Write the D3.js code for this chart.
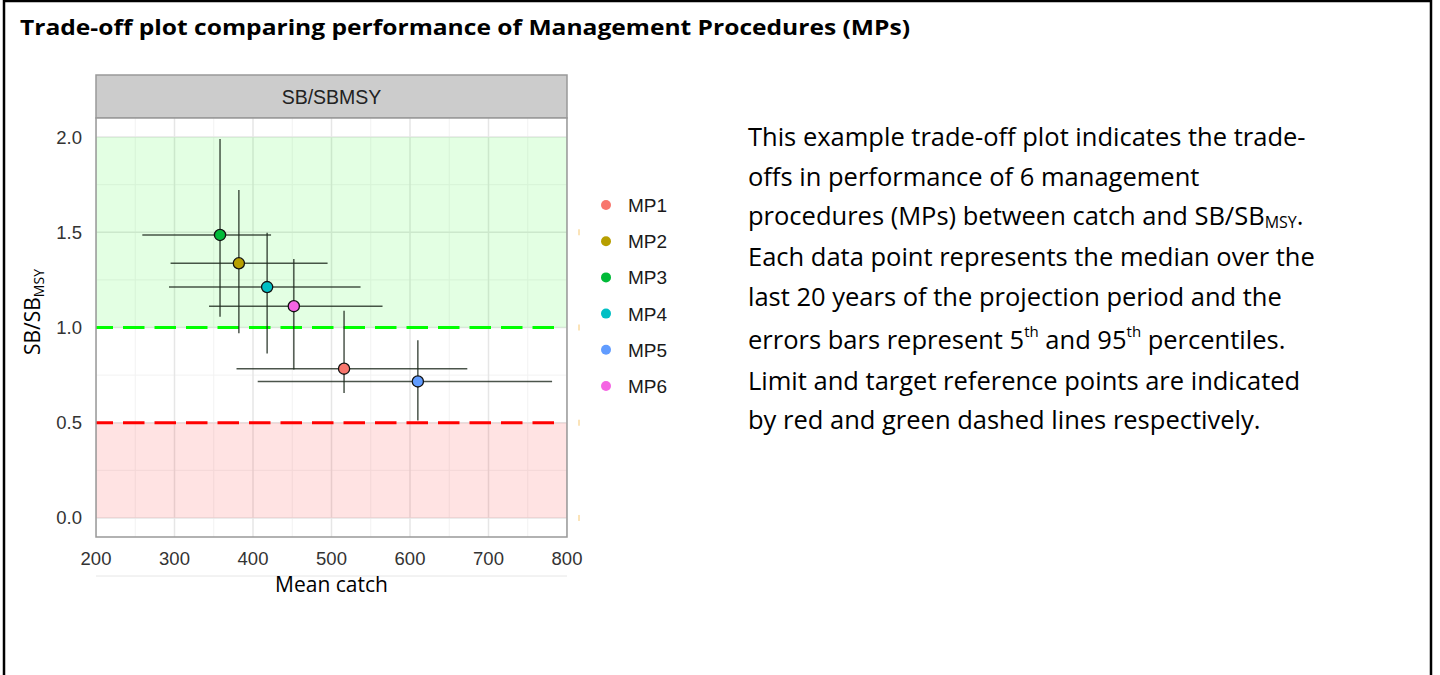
<!DOCTYPE html>
<html>
<head>
<meta charset="utf-8">
<script src="https://cdn.jsdelivr.net/npm/d3@7"></script>
<style>
  body { margin: 0; background: #fff; }
  svg { display: block; }
</style>
</head>
<body>
<svg id="chart" width="1440" height="675"></svg>
<script>
// data
const mps = ['MP1', 'MP2', 'MP3', 'MP4', 'MP5', 'MP6'];
const colours = ['#F8766D', '#B79F00', '#00BA38', '#00BFC4', '#619CFF', '#F564E3'];
const catchMed = [516, 382, 358, 418, 610, 452];
const catchLo = [379, 295, 259, 293, 406, 344];
const catchHi = [673, 495, 423, 537, 781, 565];
const sbMed = [0.784, 1.337, 1.486, 1.212, 0.717, 1.112];
const sbLo = [0.656, 0.970, 1.056, 0.863, 0.512, 0.780];
const sbHi = [1.088, 1.722, 1.990, 1.497, 0.933, 1.360];
const xTicks = [200, 300, 400, 500, 600, 700, 800];
const yTicks = [0, 0.5, 1, 1.5, 2];
const limitRef = 0.5;
const targetRef = 1;

const titleText = 'Trade-off plot comparing performance of Management Procedures (MPs)';
const noteLines = [
  [['This example trade-off plot indicates the trade-']],
  [['offs in performance of 6 management']],
  [['procedures (MPs) between catch and SB/SB'], ['MSY', 'sub'], ['.', 'after-sub']],
  [['Each data point represents the median over the']],
  [['last 20 years of the projection period and the']],
  [['errors bars represent 5'], ['th', 'sup'], [' and 95', 'after-sup'], ['th', 'sup'], [' percentiles.', 'after-sup']],
  [['Limit and target reference points are indicated']],
  [['by red and green dashed lines respectively.']]
];

const svg = d3.select('#chart');
const bodyFont = '"Open Sans", Lato, sans-serif';
const axisFont = '"Liberation Sans", Arial, sans-serif';

svg.append('rect').attr('width', 1440).attr('height', 675).attr('fill', '#fff');
// outer frame (no bottom edge visible)
svg.append('path')
  .attr('d', 'M4,680 V1 H1431 V680')
  .attr('fill', 'none').attr('stroke', '#000').attr('stroke-width', 2.5);

svg.append('text')
  .attr('x', 20).attr('y', 35)
  .attr('font-family', bodyFont).attr('font-weight', 700).attr('font-size', 22)
  .attr('textLength', 890).attr('lengthAdjust', 'spacingAndGlyphs')
  .attr('fill', '#000')
  .text(titleText);

// plot panel
const panel = { left: 96, right: 567, top: 118, bottom: 537 };
const x = d3.scaleLinear().domain([200, 800]).range([panel.left, panel.right]);
const y = d3.scaleLinear().domain([-0.1, 2.1]).range([panel.bottom, panel.top]);

const g = svg.append('g');
g.append('clipPath').attr('id', 'clip')
  .append('rect').attr('x', panel.left).attr('y', panel.top)
  .attr('width', panel.right - panel.left).attr('height', panel.bottom - panel.top);

// strip
g.append('rect')
  .attr('x', panel.left).attr('y', 75)
  .attr('width', panel.right - panel.left).attr('height', panel.top - 75)
  .attr('fill', '#cccccc').attr('stroke', '#999').attr('stroke-width', 1.5);
g.append('text')
  .attr('x', (panel.left + panel.right) / 2).attr('y', 104)
  .attr('text-anchor', 'middle')
  .attr('font-family', axisFont).attr('font-size', 19.5).attr('fill', '#222')
  .text('SB/SBMSY');

const inner = g.append('g').attr('clip-path', 'url(#clip)');
inner.append('rect')
  .attr('x', panel.left).attr('y', panel.top)
  .attr('width', panel.right - panel.left).attr('height', panel.bottom - panel.top)
  .attr('fill', '#fff');

// grid
const xMinor = d3.range(250, 800, 100);
const yMinor = d3.range(0.25, 2.1, 0.5);
inner.selectAll('.xminor').data(xMinor).join('line')
  .attr('x1', d => x(d)).attr('x2', d => x(d))
  .attr('y1', panel.top).attr('y2', panel.bottom)
  .attr('stroke', '#f2f2f2').attr('stroke-width', 1);
inner.selectAll('.yminor').data(yMinor).join('line')
  .attr('y1', d => y(d)).attr('y2', d => y(d))
  .attr('x1', panel.left).attr('x2', panel.right)
  .attr('stroke', '#f2f2f2').attr('stroke-width', 1);
inner.selectAll('.xmajor').data(xTicks).join('line')
  .attr('x1', d => x(d)).attr('x2', d => x(d))
  .attr('y1', panel.top).attr('y2', panel.bottom)
  .attr('stroke', '#e6e6e6').attr('stroke-width', 1.5);
inner.selectAll('.ymajor').data(yTicks).join('line')
  .attr('y1', d => y(d)).attr('y2', d => y(d))
  .attr('x1', panel.left).attr('x2', panel.right)
  .attr('stroke', '#e6e6e6').attr('stroke-width', 1.5);

// reference zones
inner.append('rect')
  .attr('x', panel.left).attr('width', panel.right - panel.left)
  .attr('y', y(2)).attr('height', y(targetRef) - y(2))
  .attr('fill', '#00ff00').attr('fill-opacity', 0.11);
inner.append('rect')
  .attr('x', panel.left).attr('width', panel.right - panel.left)
  .attr('y', y(limitRef)).attr('height', y(0) - y(limitRef))
  .attr('fill', '#ff0000').attr('fill-opacity', 0.11);

// reference lines
inner.append('line')
  .attr('x1', panel.left).attr('x2', panel.right - 10)
  .attr('y1', y(targetRef)).attr('y2', y(targetRef))
  .attr('stroke', '#00ff00').attr('stroke-width', 3)
  .attr('stroke-dasharray', '21.5,10').attr('stroke-dashoffset', 4.5);
inner.append('line')
  .attr('x1', panel.left).attr('x2', panel.right - 10)
  .attr('y1', y(limitRef)).attr('y2', y(limitRef))
  .attr('stroke', '#ff0000').attr('stroke-width', 3)
  .attr('stroke-dasharray', '21.5,10').attr('stroke-dashoffset', 4.5);

// error bars
const idx = d3.range(mps.length);
inner.selectAll('.hbar').data(idx).join('line')
  .attr('x1', i => x(catchLo[i])).attr('x2', i => x(catchHi[i]))
  .attr('y1', i => y(sbMed[i])).attr('y2', i => y(sbMed[i]))
  .attr('stroke', '#1e2a1e').attr('stroke-opacity', 0.8).attr('stroke-width', 1.5);
inner.selectAll('.vbar').data(idx).join('line')
  .attr('x1', i => x(catchMed[i])).attr('x2', i => x(catchMed[i]))
  .attr('y1', i => y(sbLo[i])).attr('y2', i => y(sbHi[i]))
  .attr('stroke', '#1e2a1e').attr('stroke-opacity', 0.8).attr('stroke-width', 1.5);

// points
inner.selectAll('.pt').data(idx).join('circle')
  .attr('cx', i => x(catchMed[i])).attr('cy', i => y(sbMed[i]))
  .attr('r', 5.6)
  .attr('fill', i => colours[i]).attr('stroke', '#111').attr('stroke-width', 1.3);

// panel border
g.append('rect')
  .attr('x', panel.left).attr('y', panel.top)
  .attr('width', panel.right - panel.left).attr('height', panel.bottom - panel.top)
  .attr('fill', 'none').attr('stroke', '#999').attr('stroke-width', 1.5);

// axes labels
g.selectAll('.ytick').data(yTicks).join('text')
  .attr('x', 82).attr('y', d => y(d) + 6.5)
  .attr('text-anchor', 'end')
  .attr('font-family', axisFont).attr('font-size', 18.5).attr('fill', '#333')
  .text(d3.format('.1f'));
g.selectAll('.xtick').data(xTicks).join('text')
  .attr('x', d => x(d)).attr('y', 565)
  .attr('text-anchor', 'middle')
  .attr('font-family', axisFont).attr('font-size', 18.5).attr('fill', '#333')
  .text(d => d);

// faint orange marks on the right edge
g.selectAll('.omark').data(yTicks.slice(0, 4)).join('line')
  .attr('x1', 579).attr('x2', 579)
  .attr('y1', d => y(d) - 3).attr('y2', d => y(d) + 3)
  .attr('stroke', '#f7c873').attr('stroke-width', 1);

g.append('line')
  .attr('x1', panel.left).attr('x2', panel.right)
  .attr('y1', 576).attr('y2', 576)
  .attr('stroke', '#e6e6e6').attr('stroke-width', 1);

g.append('text')
  .attr('x', (panel.left + panel.right) / 2).attr('y', 592)
  .attr('text-anchor', 'middle')
  .attr('font-family', bodyFont).attr('font-size', 21).attr('fill', '#000')
  .text('Mean catch');

const yt = g.append('text')
  .attr('transform', 'translate(40,312) rotate(-90)')
  .attr('text-anchor', 'middle')
  .attr('font-family', bodyFont).attr('font-size', 21).attr('fill', '#000');
yt.append('tspan').text('SB/SB');
yt.append('tspan').attr('font-size', 14).attr('dy', 4).text('MSY');

// legend
const leg = g.append('g');
leg.selectAll('circle').data(idx).join('circle')
  .attr('cx', 606).attr('cy', i => 205 + i * 36.2)
  .attr('r', 5).attr('fill', i => colours[i]);
leg.selectAll('text').data(idx).join('text')
  .attr('x', 628).attr('y', i => 212 + i * 36.2)
  .attr('font-family', axisFont).attr('font-size', 19).attr('fill', '#1a1a1a')
  .text(i => mps[i]);

// note text
const baselines = [146, 186, 225, 266, 306, 349, 390, 429];
noteLines.forEach((parts, li) => {
  const t = svg.append('text')
    .attr('x', 748).attr('y', baselines[li])
    .attr('font-family', bodyFont).attr('font-size', 25.5).attr('fill', '#000');
  parts.forEach(([s, kind]) => {
    const ts = t.append('tspan').text(s);
    if (kind === 'sub') ts.attr('font-size', 16).attr('dy', 3);
    else if (kind === 'sup') ts.attr('font-size', 15).attr('dy', -12);
    else if (kind === 'after-sub') ts.attr('dy', -3);
    else if (kind === 'after-sup') ts.attr('dy', 12);
  });
});
</script>
</body>
</html>
